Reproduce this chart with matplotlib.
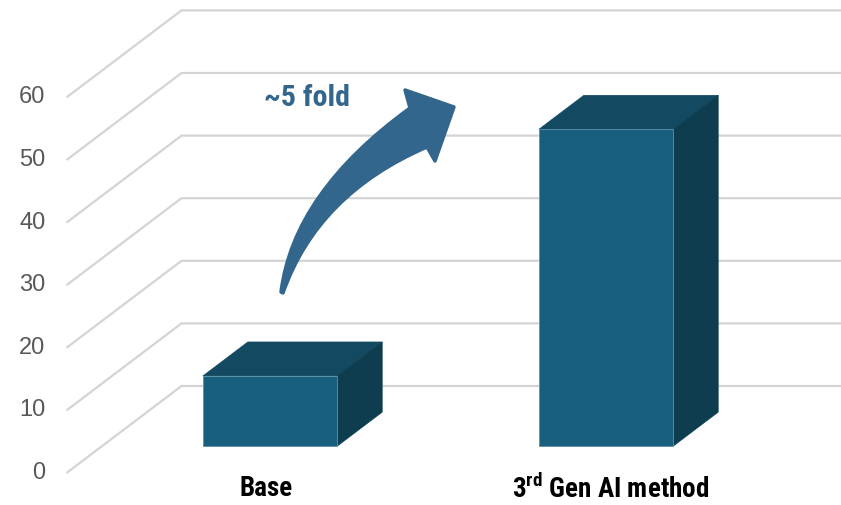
import matplotlib
matplotlib.use("Agg")
import matplotlib.pyplot as plt
from matplotlib import font_manager
from matplotlib.patches import Polygon, PathPatch
from matplotlib.path import Path

# ---- data -------------------------------------------------------------
categories = ["Base", "3$^{\\mathbf{rd}}$ Gen AI method"]
values = [11.2, 50.6]
y_ticks = [0, 10, 20, 30, 40, 50, 60]
fold_label = "~5 fold"

# ---- fonts ------------------------------------------------------------
names = {f.name for f in font_manager.fontManager.ttflist}
narrow = next((n for n in ("Roboto Condensed", "Archivo Narrow", "PT Sans Narrow")
               if n in names), "DejaVu Sans")
plt.rcParams["mathtext.fontset"] = "custom"
plt.rcParams["mathtext.rm"] = narrow
plt.rcParams["mathtext.bf"] = narrow + ":bold"

# ---- colours ----------------------------------------------------------
FRONT = "#175f7d"
TOP = "#134a62"
SIDE = "#0e3d4f"
EDGE = "#5a92aa"
GRID = "#d4d4d4"
TICK = "#595959"
ARROW = "#33668c"

W, H = 841, 505
fig = plt.figure(figsize=(W / 100, H / 100), dpi=100)
ax = fig.add_axes([0, 0, 1, 1])
ax.set_axis_off()

# pseudo-3D oblique projection: one category band = 336 px, 10 units = 62.6 px
PX_X = 336.0
PX_Y = 6.26
ax.set_xlim(-0.5 - 66.5 / PX_X, -0.5 + (W - 66.5) / PX_X)
ax.set_ylim(-(H - 473) / PX_Y, 473 / PX_Y)

DX = 115 / PX_X          # full floor depth, x component
DY = 87 / PX_Y           # full floor depth, y component
D0, DD = 0.31, 0.39      # bar front position and bar depth (fractions of floor depth)
BAR_W = 0.4
x_left = -0.5
x_right = ax.get_xlim()[1] + 0.1

# gridlines: diagonal on the side wall, horizontal on the back wall
for v in y_ticks:
    ax.plot([x_left, x_left + DX, x_right], [v, v + DY, v + DY],
            color=GRID, lw=1.6, solid_capstyle="butt", zorder=1)
    ax.text(x_left - 21 / PX_X, v, str(v), ha="right", va="center",
            fontsize=17, color=TICK, family="Liberation Sans")

# bars
for i, (cat, v) in enumerate(zip(categories, values)):
    x0 = i - BAR_W / 2 + D0 * DX
    y0 = D0 * DY
    x1 = x0 + BAR_W
    ox, oy = DD * DX, DD * DY
    top = Polygon([(x0, y0 + v), (x1, y0 + v), (x1 + ox, y0 + v + oy), (x0 + ox, y0 + v + oy)],
                  closed=True, facecolor=TOP, edgecolor=TOP, lw=0.5, zorder=3)
    side = Polygon([(x1, y0), (x1 + ox, y0 + oy), (x1 + ox, y0 + v + oy), (x1, y0 + v)],
                   closed=True, facecolor=SIDE, edgecolor=SIDE, lw=0.5, zorder=3)
    front = Polygon([(x0, y0), (x1, y0), (x1, y0 + v), (x0, y0 + v)],
                    closed=True, facecolor=FRONT, edgecolor=EDGE, lw=0.6, zorder=4)
    for p in (top, side, front):
        ax.add_patch(p)
    ax.text(i + D0 * DX - 4 / PX_X + 8 * i / PX_X, -(489 - 473) / PX_Y, cat,
            ha="center", va="center", fontsize=19.5, fontweight="bold",
            color="black", family=narrow)

# curved growth arrow (figure pixel coordinates, origin top-left)
def fp(x, y):
    return (x / W, 1 - y / H)

verts = [fp(281, 292), fp(293.4, 192.5), fp(410, 108),
         fp(405, 90), fp(454, 107), fp(435, 161), fp(427, 147),
         fp(317.6, 194.2), fp(283, 293), fp(281, 292)]
codes = [Path.MOVETO, Path.CURVE3, Path.CURVE3,
         Path.LINETO, Path.LINETO, Path.LINETO, Path.LINETO,
         Path.CURVE3, Path.CURVE3, Path.CLOSEPOLY]
arrow = PathPatch(Path(verts, codes), transform=fig.transFigure,
                  facecolor=ARROW, edgecolor=ARROW, lw=2.5, joinstyle="round", zorder=5)
ax.add_patch(arrow)

fig.text(307 / W, 1 - 98 / H, fold_label, ha="center", va="center",
         fontsize=21.5, color=ARROW, family=narrow, fontweight="semibold")

fig.savefig("out.png", dpi=100)
